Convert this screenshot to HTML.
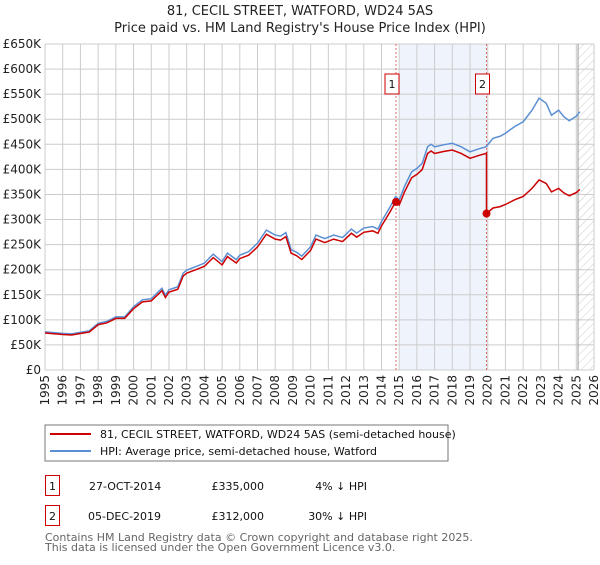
<!DOCTYPE html>
<html><head><meta charset="utf-8"><style>
body{margin:0;background:#fff;font-family:"Liberation Sans","DejaVu Sans",sans-serif;}
svg text{font-family:"DejaVu Sans","Liberation Sans",sans-serif;}
</style></head><body>
<svg id="c" width="600" height="560" xmlns="http://www.w3.org/2000/svg">
<defs><pattern id="hatch" width="6" height="6" patternUnits="userSpaceOnUse" patternTransform="rotate(45)"><line x1="0" y1="0" x2="0" y2="6" stroke="#ccc" stroke-width="1"/></pattern></defs>
<text x="300" y="15" text-anchor="middle" font-size="13" fill="#222">81, CECIL STREET, WATFORD, WD24 5AS</text>
<text x="300" y="32" text-anchor="middle" font-size="13" fill="#222">Price paid vs. HM Land Registry's House Price Index (HPI)</text>
<g id="plot"></g>
<g>
<rect x="45" y="425" width="403" height="36" fill="#fff" stroke="#777"/>
<line x1="50" y1="434" x2="91" y2="434" stroke="#cc0000" stroke-width="2"/>
<text x="100" y="438" font-size="11" fill="#111">81, CECIL STREET, WATFORD, WD24 5AS (semi-detached house)</text>
<line x1="50" y1="451" x2="91" y2="451" stroke="#5b8fd4" stroke-width="2"/>
<text x="100" y="455" font-size="11" fill="#111">HPI: Average price, semi-detached house, Watford</text>
</g>
<g>
<rect x="45.5" y="475.5" width="14" height="20" fill="none" stroke="#cc0000"/>
<text x="52.5" y="490" text-anchor="middle" font-size="11" fill="#111">1</text>
<text x="89" y="490" font-size="11" fill="#111">27-OCT-2014</text>
<text x="264" y="490" text-anchor="end" font-size="11" fill="#111">£335,000</text>
<text x="367" y="490" text-anchor="end" font-size="11" fill="#111">4% ↓ HPI</text>
<rect x="45.5" y="505.5" width="14" height="20" fill="none" stroke="#cc0000"/>
<text x="52.5" y="520" text-anchor="middle" font-size="11" fill="#111">2</text>
<text x="88" y="520" font-size="11" fill="#111">05-DEC-2019</text>
<text x="264" y="520" text-anchor="end" font-size="11" fill="#111">£312,000</text>
<text x="367" y="520" text-anchor="end" font-size="11" fill="#111">30% ↓ HPI</text>
</g>
<text x="45" y="541" font-size="11" fill="#666">Contains HM Land Registry data © Crown copyright and database right 2025.</text>
<text x="45" y="551" font-size="11" fill="#666">This data is licensed under the Open Government Licence v3.0.</text>
</svg>
<script>
const hpiYears=[1995,1996,1996.5,1997,1997.5,1998,1998.5,1999,1999.5,2000,2000.5,2001,2001.6,2001.8,2002,2002.5,2002.8,2003,2003.5,2004,2004.5,2005,2005.3,2005.8,2006,2006.5,2007,2007.5,2008,2008.3,2008.6,2008.9,2009.2,2009.5,2010,2010.3,2010.8,2011.3,2011.8,2012.3,2012.6,2013,2013.5,2013.8,2014,2014.5,2014.8,2015,2015.3,2015.7,2016,2016.3,2016.6,2016.8,2017,2017.5,2018,2018.5,2019,2019.5,2019.9,2020.3,2020.7,2021,2021.5,2022,2022.5,2022.9,2023.3,2023.6,2024,2024.3,2024.6,2025,2025.2];
const hpiValues=[76,73,72,75,78,93,97,106,106,126,140,142,163,149,160,166,193,199,206,213,231,216,233,220,229,236,253,279,269,267,274,240,235,227,246,269,262,269,264,281,273,283,286,281,296,326,346,339,366,395,402,412,445,450,445,449,452,445,435,441,445,462,466,472,485,495,518,542,532,508,518,505,497,506,515];
const saleYears=[2014.82,2019.93];
const salePrices=[335,312];
const saleLabels=["1","2"];
const yTicks=[0,50,100,150,200,250,300,350,400,450,500,550,600,650];
const xTicks=[1995,1996,1997,1998,1999,2000,2001,2002,2003,2004,2005,2006,2007,2008,2009,2010,2011,2012,2013,2014,2015,2016,2017,2018,2019,2020,2021,2022,2023,2024,2025,2026];
const L=45,R=594,T=44,B=370,X0=1995,X1=2026,Ymax=650;
const xs=y=>L+(y-X0)/(X1-X0)*(R-L);
const ys=v=>B-v/Ymax*(B-T);
const NS="http://www.w3.org/2000/svg";
const g=document.getElementById('plot');
function mk(tag,at,parent){const e=document.createElementNS(NS,tag);for(const k in at)e.setAttribute(k,at[k]);(parent||g).appendChild(e);return e;}
function hpiAt(y){for(let i=1;i<hpiYears.length;i++){if(y<=hpiYears[i]){const t=(y-hpiYears[i-1])/(hpiYears[i]-hpiYears[i-1]);return hpiValues[i-1]+t*(hpiValues[i]-hpiValues[i-1]);}}return hpiValues[hpiValues.length-1];}
let e=mk('rect',{x:xs(2015),y:T,width:xs(saleYears[1])-xs(2015),height:B-T,fill:'#eef3fc'});

e=mk('rect',{x:xs(2025.1),y:T,width:R-xs(2025.1),height:B-T,fill:'url(#hatch)'});

yTicks.forEach(v=>{let l=mk('line',{x1:L,x2:R,y1:ys(v),y2:ys(v),stroke:'#ccc','stroke-width':1});

let t=mk('text',{x:L-4,y:ys(v)+4,'text-anchor':'end','font-size':12,fill:'#222'});t.textContent=v===0?'£0':'£'+v+'K';
});
xTicks.forEach(y=>{let l=mk('line',{x1:xs(y),x2:xs(y),y1:T,y2:B,stroke:'#ccc','stroke-width':1});

let t=mk('text',{x:0,y:0,'text-anchor':'end','font-size':12,fill:'#222',transform:`translate(${xs(y)+4},${B+5}) rotate(-90)`});t.textContent=y;
});
e=mk('line',{x1:xs(2025.1),x2:xs(2025.1),y1:T,y2:B,stroke:'#999','stroke-width':1});

saleYears.forEach((sy,i)=>{let l=mk('line',{x1:xs(sy),x2:xs(sy),y1:T,y2:B,stroke:'#e06666','stroke-width':1,'stroke-dasharray':'2,2'});

let r=mk('rect',{x:xs(sy)-11,y:74,width:14,height:20,fill:'#fff',stroke:'#cc0000'});

let t=mk('text',{x:xs(sy)-4,y:88,'text-anchor':'middle','font-size':11,fill:'#111'});t.textContent=saleLabels[i];
});
const hp=hpiYears.map((y,i)=>xs(y)+','+ys(hpiValues[i])).join(' ');
e=mk('polyline',{points:hp,fill:'none',stroke:'#5b8fd4','stroke-width':1.5});

const r1=salePrices[0]/hpiAt(saleYears[0]),r2=salePrices[1]/hpiAt(saleYears[1]);
let pts=[];
hpiYears.forEach((y,i)=>{if(y<saleYears[1])pts.push([y,hpiValues[i]*r1]);});
pts.push([saleYears[1],hpiAt(saleYears[1])*r1]);pts.push([saleYears[1],salePrices[1]]);
hpiYears.forEach((y,i)=>{if(y>saleYears[1])pts.push([y,hpiValues[i]*r2]);});
e=mk('polyline',{points:pts.map(p=>xs(p[0])+','+ys(p[1])).join(' '),fill:'none',stroke:'#cc0000','stroke-width':1.5});

saleYears.forEach((sy,i)=>{let c=mk('circle',{cx:xs(sy),cy:ys(salePrices[i]),r:4,fill:'#cc0000'});
});
</script>
</body></html>
